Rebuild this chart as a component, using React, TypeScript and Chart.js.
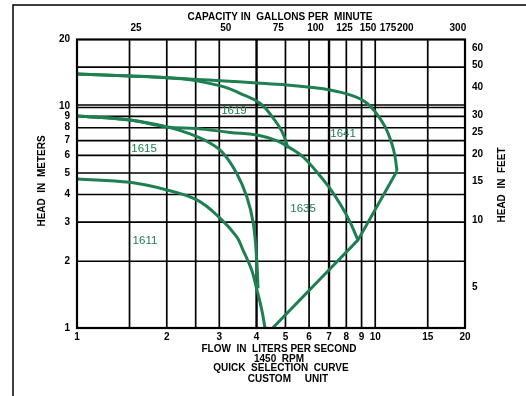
import React, { useEffect, useRef } from 'react';
import { Chart, registerables } from 'chart.js';

Chart.register(...registerables);

// Unit conversions for the secondary axes
const GPM_PER_LPS = 15.8503;
const FT_PER_M = 3.28084;

// Axis tick labels
const flowTicks = [1, 2, 3, 4, 5, 6, 7, 8, 9, 10, 15, 20];
const headTicks = [1, 2, 3, 4, 5, 6, 7, 8, 9, 10, 20];
const gpmTicks = [25, 50, 75, 100, 125, 150, 175, 200, 300];
const feetTicks = [5, 10, 15, 20, 25, 30, 40, 50, 60];

// Grid lines (flow in L/s, head in m)
const flowGrid = [1.5, 2, 2.5, 3, 4, 5, 6, 7, 8, 9, 10, 15];
const heavyFlowGrid = [4, 7];
const headGrid = [2, 3, 4, 5, 6, 7, 8, 9, 15];
const doubleHeadGrid = [10];

// Pump curves: flow (L/s) and head (m)
const flow1641 = [1, 1.505, 2.004, 2.523, 3.017, 4.014, 5.06, 6.04, 7.06, 8.23, 9.24, 9.99, 10.79, 11.36, 11.65, 11.83];
const head1641 = [13.99, 13.7, 13.45, 13.21, 13.03, 12.74, 12.48, 12.18, 11.84, 11.25, 10.49, 9.45, 8.09, 6.81, 5.93, 5.11];

const flow1619 = [1, 1.505, 2.004, 2.393, 3.094, 3.52, 4.107, 4.51, 4.87, 5.11];
const head1619 = [13.99, 13.7, 13.45, 13.15, 12.26, 11.44, 10.32, 8.98, 7.68, 6.46];

const flow1635 = [1, 1.505, 2.004, 2.523, 3.26, 4.014, 4.69, 5.18, 5.73, 6.33, 6.95, 7.62, 8.23, 8.75];
const head1635 = [9.04, 8.67, 8.07, 7.94, 7.62, 7.42, 6.98, 6.49, 5.91, 5.11, 4.37, 3.63, 3.01, 2.49];

const flow1615 = [1, 1.505, 2.004, 2.393, 2.791, 3.087, 3.43, 3.71, 3.9, 4.005, 4.046];
const head1615 = [9.04, 8.67, 8.07, 7.5, 6.83, 6.16, 4.99, 3.91, 2.97, 2.03, 1.51];

const flow1611 = [1, 1.505, 2.004, 2.523, 3.017, 3.43, 3.6, 3.85, 4.014, 4.163, 4.27];
const head1611 = [4.7, 4.54, 4.19, 3.78, 3.13, 2.58, 2.25, 1.83, 1.48, 1.21, 1.0];

// Right-hand operating limit
const flowLimit = [11.83, 8.75, 4.53];
const headLimit = [5.11, 2.49, 1.0];

// Model labels placed inside their regions
const pumpNames = ['1619', '1641', '1615', '1635', '1611'];
const pumpLabelFlow = [3.36, 7.8, 1.678, 5.73, 1.69];
const pumpLabelHead = [9.52, 7.5, 6.42, 3.44, 2.47];

const GREEN = '#1e8050';
const FONT = '"Liberation Sans", Arial, sans-serif';

const toPoints = (xs: number[], ys: number[]) => xs.map((x, i) => ({ x, y: ys[i] }));

const curve = (xs: number[], ys: number[], tension = 0.4) => ({
  data: toPoints(xs, ys),
  borderColor: GREEN,
  borderWidth: 3,
  pointRadius: 0,
  tension,
  xAxisID: 'x',
  yAxisID: 'y',
});

const fixedTicks = (values: number[]) => (scale: any) => {
  scale.ticks = values.map((value) => ({ value }));
};

const chartDecor = {
  id: 'chartDecor',
  beforeDatasetsDraw(chart: any) {
    const { ctx, chartArea: a, scales } = chart;
    const xs = scales.x;
    const ys = scales.y;
    ctx.save();
    ctx.strokeStyle = '#000';
    flowGrid.forEach((v) => {
      const px = xs.getPixelForValue(v);
      ctx.lineWidth = heavyFlowGrid.includes(v) ? 2.4 : 1.7;
      ctx.beginPath();
      ctx.moveTo(px, a.top);
      ctx.lineTo(px, a.bottom);
      ctx.stroke();
    });
    ctx.lineWidth = 1.7;
    headGrid.forEach((v) => {
      const py = ys.getPixelForValue(v);
      ctx.beginPath();
      ctx.moveTo(a.left, py);
      ctx.lineTo(a.right, py);
      ctx.stroke();
    });
    ctx.lineWidth = 1.4;
    doubleHeadGrid.forEach((v) => {
      const py = ys.getPixelForValue(v);
      [-1.3, 1.2].forEach((d) => {
        ctx.beginPath();
        ctx.moveTo(a.left, py + d);
        ctx.lineTo(a.right, py + d);
        ctx.stroke();
      });
    });
    ctx.restore();
  },
  afterDraw(chart: any) {
    const { ctx, chartArea: a, scales } = chart;
    ctx.save();
    // plot frame
    ctx.strokeStyle = '#000';
    ctx.lineWidth = 2.2;
    ctx.strokeRect(a.left, a.top, a.right - a.left, a.bottom - a.top);
    // sheet frame
    ctx.lineWidth = 1.5;
    ctx.beginPath();
    ctx.moveTo(13, chart.height);
    ctx.lineTo(13, 5);
    ctx.lineTo(chart.width, 5);
    ctx.stroke();

    // model labels
    ctx.fillStyle = GREEN;
    ctx.font = `11.5px ${FONT}`;
    ctx.textAlign = 'center';
    ctx.textBaseline = 'middle';
    pumpNames.forEach((name, i) => {
      ctx.fillText(
        name,
        scales.x.getPixelForValue(pumpLabelFlow[i]),
        scales.y.getPixelForValue(pumpLabelHead[i])
      );
    });

    // titles
    ctx.fillStyle = '#000';
    ctx.font = `bold 10px ${FONT}`;
    ctx.fillText('CAPACITY IN  GALLONS PER  MINUTE', 280, 17);
    const cx = 279;
    ctx.fillText('FLOW  IN  LITERS PER SECOND', cx, 349);
    ctx.fillText('1450  RPM', cx, 359);
    ctx.fillText('QUICK  SELECTION  CURVE', cx + 2, 368.5);
    ctx.fillText('CUSTOM     UNIT', cx + 9, 379);

    ctx.save();
    ctx.translate(42, 181);
    ctx.rotate(-Math.PI / 2);
    ctx.fillText('HEAD  IN  METERS', 0, 0);
    ctx.restore();

    ctx.save();
    ctx.translate(502, 185);
    ctx.rotate(-Math.PI / 2);
    ctx.fillText('HEAD  IN  FEET', 0, 0);
    ctx.restore();

    ctx.restore();
  },
};

const tickFont = { family: FONT, size: 10, weight: 'bold' as const };

export default function App() {
  const canvasRef = useRef<HTMLCanvasElement | null>(null);

  useEffect(() => {
    if (!canvasRef.current) return;
    const chart = new Chart(canvasRef.current, {
      type: 'line',
      data: {
        datasets: [
          curve(flow1641, head1641),
          curve(flow1619, head1619),
          curve(flow1635, head1635),
          curve(flow1615, head1615),
          curve(flow1611, head1611),
          curve(flowLimit, headLimit, 0),
        ],
      },
      options: {
        animation: false,
        responsive: false,
        devicePixelRatio: 1,
        layout: { padding: 0 },
        plugins: {
          legend: { display: false },
          tooltip: { enabled: false },
        },
        scales: {
          x: {
            type: 'logarithmic',
            position: 'bottom',
            min: 1,
            max: 20,
            grid: { display: false, drawTicks: false },
            border: { display: false },
            afterBuildTicks: fixedTicks(flowTicks),
            afterFit: (s: any) => { s.height = 68; },
            ticks: {
              autoSkip: false,
              maxRotation: 0,
              padding: 3,
              color: '#000',
              font: tickFont,
              callback: (v: any) => String(v),
            },
          },
          x2: {
            type: 'logarithmic',
            position: 'top',
            min: GPM_PER_LPS,
            max: 20 * GPM_PER_LPS,
            grid: { display: false, drawTicks: false },
            border: { display: false },
            afterBuildTicks: fixedTicks(gpmTicks),
            afterFit: (s: any) => { s.height = 39.5; },
            ticks: {
              autoSkip: false,
              maxRotation: 0,
              padding: 5,
              color: '#000',
              font: tickFont,
              callback: (v: any) => String(v),
            },
          },
          y: {
            type: 'logarithmic',
            position: 'left',
            min: 1,
            max: 20,
            grid: { display: false, drawTicks: false },
            border: { display: false },
            afterBuildTicks: fixedTicks(headTicks),
            afterFit: (s: any) => { s.width = 77; },
            ticks: {
              autoSkip: false,
              padding: 7,
              color: '#000',
              font: tickFont,
              callback: (v: any) => String(v),
            },
          },
          y2: {
            type: 'logarithmic',
            position: 'right',
            min: FT_PER_M,
            max: 20 * FT_PER_M,
            grid: { display: false, drawTicks: false },
            border: { display: false },
            afterBuildTicks: fixedTicks(feetTicks),
            afterFit: (s: any) => { s.width = 61; },
            ticks: {
              autoSkip: false,
              padding: 7,
              color: '#000',
              font: tickFont,
              callback: (v: any) => String(v),
            },
          },
        },
      },
      plugins: [chartDecor],
    });
    return () => chart.destroy();
  }, []);

  return (
    <div style={{ position: 'fixed', left: 0, top: 0, width: 526, height: 396, background: '#fff' }}>
      <canvas ref={canvasRef} width={526} height={396} style={{ display: 'block' }} />
    </div>
  );
}
